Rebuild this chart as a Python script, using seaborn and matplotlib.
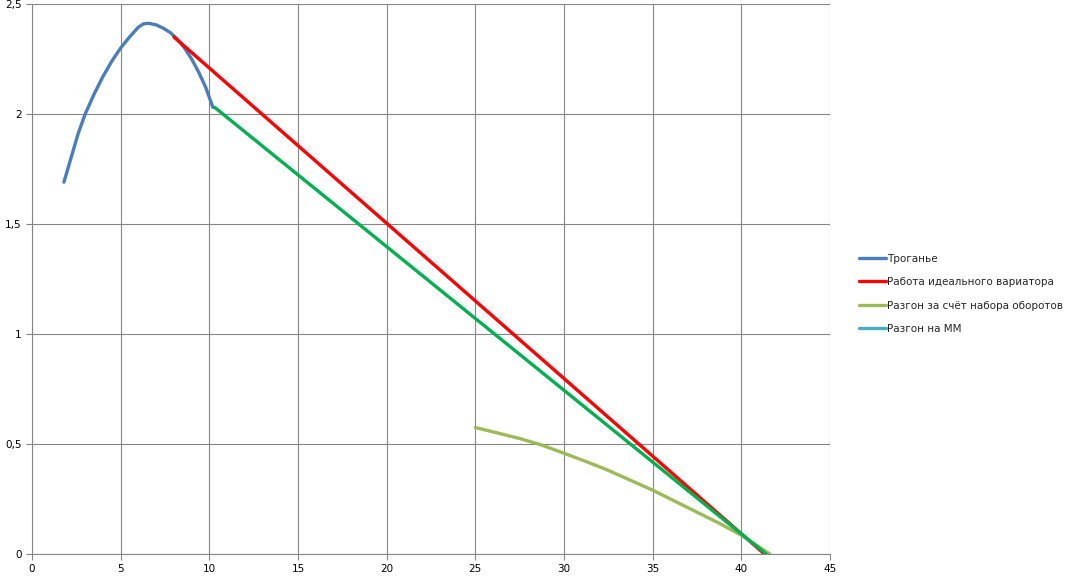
import matplotlib
matplotlib.use('Agg')
import matplotlib.pyplot as plt
import seaborn as sns
import pandas as pd

# Трогание
start_x = [1.8, 2.2, 2.6, 3.0, 3.5, 4.0, 4.5, 5.0, 5.5, 6.0, 6.3, 6.6, 7.0, 7.4, 7.8, 8.2, 8.6, 9.0, 9.4, 9.8, 10.2]
start_y = [1.69, 1.80, 1.91, 2.0, 2.09, 2.17, 2.24, 2.30, 2.35, 2.395, 2.41, 2.412, 2.405, 2.39, 2.37, 2.34, 2.30, 2.25, 2.19, 2.12, 2.03]

# Работа идеального вариатора
ideal_x = [8.0, 41.3]
ideal_y = [2.35, 0.0]

# Разгон за счёт набора оборотов
rpm_x = [25, 26.25, 27.5, 28.75, 30, 31.25, 32.5, 33.75, 35, 36.25, 37.5, 38.75, 40, 41.6]
rpm_y = [0.575, 0.55, 0.525, 0.495, 0.458, 0.42, 0.38, 0.335, 0.29, 0.24, 0.19, 0.14, 0.085, 0.0]

# Разгон на ММ (legend only) and the unlabelled green line
mm_x = []
mm_y = []
green_x = [10.3, 41.4]
green_y = [2.03, 0.0]

x_ticks = [0, 5, 10, 15, 20, 25, 30, 35, 40, 45]
y_ticks = [0, 0.5, 1, 1.5, 2, 2.5]
y_labels = ['0', '0,5', '1', '1,5', '2', '2,5']

sns.set_style('white')
plt.rcParams['font.family'] = ['DejaVu Sans']

fig = plt.figure(figsize=(10.74, 5.84), dpi=100)
ax = fig.add_axes([0.0298, 0.0514, 0.7430, 0.9418])

lw = 2.4
sns.lineplot(x=start_x, y=start_y, ax=ax, sort=False, color='#4A7EBB', linewidth=lw, label='Троганье')
sns.lineplot(x=ideal_x, y=ideal_y, ax=ax, sort=False, color='#FF0000', linewidth=lw, label='Работа идеального вариатора')
sns.lineplot(x=rpm_x, y=rpm_y, ax=ax, sort=False, color='#9BBB59', linewidth=lw, label='Разгон за счёт набора оборотов')
ax.plot(mm_x, mm_y, color='#4BACC6', linewidth=lw, label='Разгон на ММ')
sns.lineplot(x=green_x, y=green_y, ax=ax, sort=False, color='#00B050', linewidth=lw, label='_nolegend_')

ax.set_xlim(0, 45)
ax.set_ylim(0, 2.5)
ax.set_xticks(x_ticks)
ax.set_yticks(y_ticks)
ax.set_yticklabels(y_labels)
ax.tick_params(axis='both', labelsize=7.5, colors='#868686', labelcolor='black',
               length=4, width=0.8, direction='out', bottom=True, left=True)
ax.grid(True, color='#868686', linewidth=0.8)
ax.set_axisbelow(True)
for side in ['top', 'right']:
    ax.spines[side].set_visible(False)
for side in ['left', 'bottom']:
    ax.spines[side].set_color('#868686')
    ax.spines[side].set_linewidth(0.8)

leg = ax.legend(loc='center left', bbox_to_anchor=(1.025, 0.473), frameon=False,
                fontsize=7.5, handlelength=2.6, labelspacing=1.3, handletextpad=0.1)

fig.savefig('out.png', dpi=100)
